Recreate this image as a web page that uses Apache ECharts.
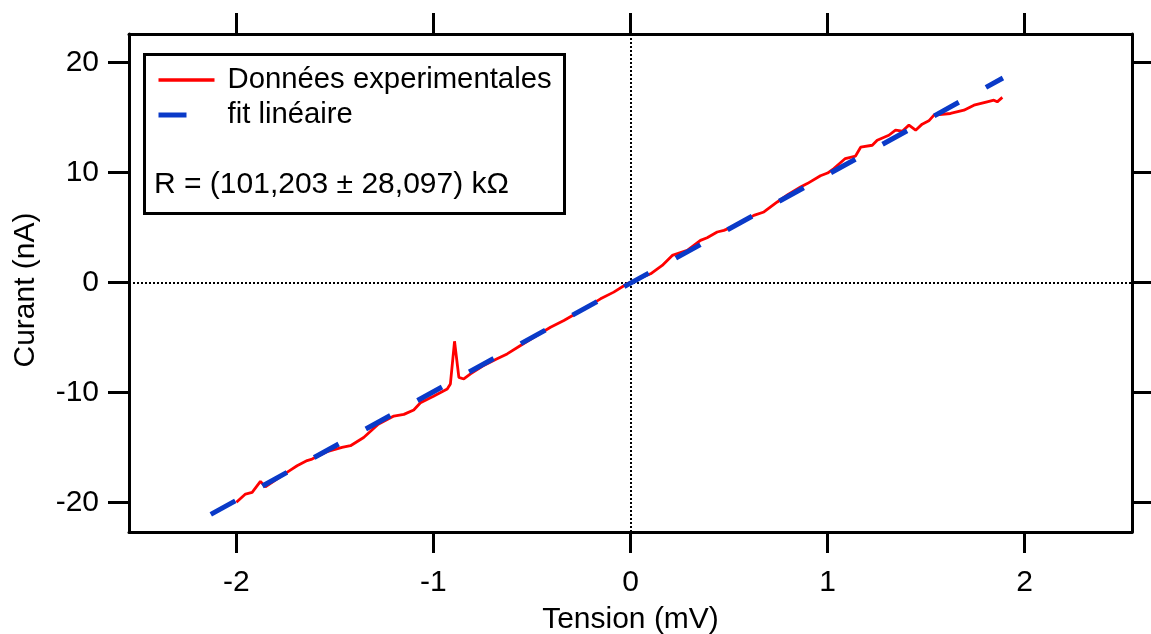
<!DOCTYPE html>
<html>
<head>
<meta charset="utf-8">
<script src="https://cdn.jsdelivr.net/npm/echarts@6/dist/echarts.min.js"></script>
<style>
html,body{margin:0;padding:0;background:#fff;}
#chart{width:1151px;height:634px;}
</style>
</head>
<body>
<div id="chart"></div>
<script>
// Measured data (Tension in mV, Curant in nA)
const tension = [-2.00,-1.954,-1.92,-1.878,-1.853,-1.80,-1.726,-1.692,-1.641,-1.616,-1.54,-1.464,-1.421,-1.354,-1.28,-1.201,-1.15,-1.10,-1.066,-1.0,-0.93,-0.914,-0.893,-0.871,-0.846,-0.812,-0.75,-0.677,-0.626,-0.558,-0.49,-0.406,-0.338,-0.25,-0.152,-0.085,-0.017,0.05,0.102,0.161,0.212,0.288,0.355,0.389,0.44,0.474,0.55,0.626,0.677,0.745,0.80,0.863,0.897,0.964,1.0,1.032,1.09,1.142,1.168,1.227,1.252,1.311,1.345,1.379,1.413,1.447,1.48,1.514,1.54,1.624,1.692,1.743,1.81,1.844,1.861,1.887];
const curant = [-20.0,-19.25,-19.1,-18.1,-18.6,-17.95,-17.07,-16.67,-16.2,-16.07,-15.4,-15.0,-14.85,-14.1,-12.9,-12.15,-12.0,-11.6,-10.95,-10.35,-9.69,-9.23,-5.35,-8.63,-8.78,-8.32,-7.6,-6.95,-6.5,-5.74,-5.0,-4.07,-3.46,-2.55,-1.49,-0.88,-0.12,0.4,0.79,1.55,2.46,2.92,3.83,4.07,4.59,4.74,5.3,6.1,6.41,7.32,8.0,8.68,8.99,9.7,9.95,10.36,11.27,11.5,12.3,12.48,12.94,13.39,13.85,13.76,14.31,13.85,14.4,14.7,15.22,15.37,15.67,16.13,16.43,16.58,16.43,16.83];
const fitX = [-2.13, 1.89];
const fitY = [-21.1, 18.6];
const xTicks = [-2, -1, 0, 1, 2];
const yTicks = [-20, -10, 0, 10, 20];
const legendNames = ['Données experimentales', 'fit linéaire'];
const resistanceText = 'R = (101,203 ± 28,097) kΩ';
const xTitle = 'Tension (mV)';
const yTitle = 'Curant (nA)';

const FONT = 'Liberation Sans, Arial, sans-serif';
const FS = 30;
const RED = '#ff0000';
const BLUE = '#0a3ac8';
const DASH = [28, 31];
const data1 = tension.map((v, i) => [v, curant[i]]);
const data2 = fitX.map((v, i) => [v, fitY[i]]);

const chart = echarts.init(document.getElementById('chart'));
const axisLine = { show: true, onZero: false, lineStyle: { color: '#000', width: 3 } };
const tick = (vals) => ({ show: true, inside: false, length: 21, customValues: vals, lineStyle: { color: '#000', width: 3 } });
const hiddenSymbol = { color: 'transparent', borderColor: 'transparent', borderWidth: 0, opacity: 0 };

chart.setOption({
  animation: false,
  backgroundColor: '#fff',
  grid: { left: 129, right: 19, top: 34, bottom: 102, containLabel: false, outerBoundsMode: 'none' },
  xAxis: [
    { type: 'value', position: 'bottom', min: -2.545, max: 2.545,
      axisLine, axisTick: tick(xTicks), splitLine: { show: false },
      axisLabel: { show: true, customValues: xTicks, margin: 36, color: '#000', fontSize: FS, fontFamily: FONT },
      name: xTitle, nameLocation: 'middle', nameGap: 73,
      nameTextStyle: { color: '#000', fontSize: FS, fontFamily: FONT } },
    { type: 'value', position: 'top', min: -2.545, max: 2.545,
      axisLine, axisTick: tick(xTicks), splitLine: { show: false }, axisLabel: { show: false } }
  ],
  yAxis: [
    { type: 'value', position: 'left', min: -22.7, max: 22.6,
      axisLine, axisTick: tick(yTicks), splitLine: { show: false },
      axisLabel: { show: true, customValues: yTicks, margin: 30, color: '#000', fontSize: FS, fontFamily: FONT },
      name: yTitle, nameLocation: 'middle', nameGap: 88,
      nameTextStyle: { color: '#000', fontSize: FS, fontFamily: FONT, padding: [0, 14, 0, 0] } },
    { type: 'value', position: 'right', min: -22.7, max: 22.6,
      axisLine, axisTick: tick(yTicks), splitLine: { show: false }, axisLabel: { show: false } }
  ],
  legend: {
    orient: 'vertical', left: 156, top: 63, itemGap: 1, padding: 0,
    itemWidth: 56, itemHeight: 14,
    data: [
      { name: legendNames[0], itemStyle: hiddenSymbol, lineStyle: { color: RED, width: 3.5, type: 'solid' } },
      { name: legendNames[1], itemStyle: hiddenSymbol, lineStyle: { color: BLUE, width: 5, type: DASH, cap: 'butt' } }
    ],
    textStyle: { color: '#000', fontSize: 29.3, fontFamily: FONT, lineHeight: 34, padding: [0, 0, 0, 8] }
  },
  graphic: [
    { type: 'rect', left: 143, top: 53, z: 1,
      shape: { width: 420, height: 159 },
      style: { fill: '#fff', stroke: '#000', lineWidth: 3 } },
    { type: 'text', left: 154, top: 170, z: 2,
      style: { text: resistanceText, fill: '#000', fontSize: FS, fontFamily: FONT } }
  ],
  series: [
    { name: legendNames[0], type: 'line', data: data1, symbol: 'none', z: 2,
      lineStyle: { color: RED, width: 2.8 }, itemStyle: { color: RED } },
    { name: legendNames[1], type: 'line', data: data2, symbol: 'none', z: 3,
      lineStyle: { color: BLUE, width: 5, type: DASH, cap: 'butt' }, itemStyle: { color: BLUE },
      markLine: { silent: true, symbol: 'none', label: { show: false }, z: 1,
        lineStyle: { color: '#000', width: 2, type: [2, 2] },
        data: [{ xAxis: 0 }, { yAxis: 0 }] } }
  ]
});
</script>
</body>
</html>
